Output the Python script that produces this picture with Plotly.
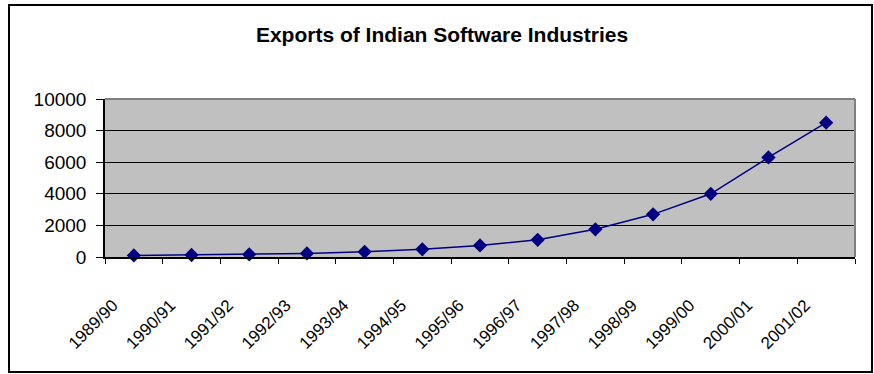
import plotly.graph_objects as go

# Financial years and software export values
years = ["1989/90", "1990/91", "1991/92", "1992/93", "1993/94", "1994/95", "1995/96",
         "1996/97", "1997/98", "1998/99", "1999/00", "2000/01", "2001/02"]
exports = [100, 128, 164, 225, 330, 485, 734, 1085, 1750, 2700, 4000, 6300, 8500]
y_ticks = [0, 2000, 4000, 6000, 8000, 10000]
y_labels = ["0", "2000", "4000", "6000", "8000", "10000"]

W, H = 874, 374
L, R, T, B = 105, 19, 99, 117
pw, ph = W - L - R, H - T - B

fig = go.Figure()
fig.add_trace(go.Scatter(
    x=years, y=exports, mode="lines+markers",
    line=dict(color="#000080", width=1.5),
    marker=dict(symbol="diamond", size=11, color="#000080"),
    showlegend=False, cliponaxis=False,
))

# outer chart frame and grey top/right plot border, in paper units
def px_x(p):
    return (p - L) / pw

def px_y(p):
    return (H - B - p) / ph

shapes = [
    dict(type="rect", xref="paper", yref="paper",
         x0=px_x(9), x1=px_x(872), y0=px_y(372), y1=px_y(5),
         line=dict(color="black", width=2), layer="below"),
    dict(type="line", xref="paper", yref="paper", x0=0, x1=1, y0=1, y1=1,
         line=dict(color="#808080", width=2)),
    dict(type="line", xref="paper", yref="paper", x0=1, x1=1, y0=0, y1=1,
         line=dict(color="#808080", width=2)),
]

fig.update_layout(
    width=W, height=H,
    margin=dict(l=L, r=R, t=T, b=B),
    paper_bgcolor="white",
    plot_bgcolor="#C0C0C0",
    font=dict(family="Liberation Sans, Arial", color="black"),
    title=dict(text="<b>Exports of Indian Software Industries</b>",
               x=442 / W, xanchor="center", y=1 - 35 / H, yanchor="middle",
               font=dict(size=21, color="black")),
    shapes=shapes,
    xaxis=dict(
        type="category", range=[-0.5, len(years) - 0.5],
        showgrid=False, zeroline=False,
        showline=True, linecolor="black", linewidth=1.5,
        ticks="outside", tickson="boundaries", ticklen=5, tickcolor="black",
        tickangle=-45, tickfont=dict(size=17),
        ticklabelstandoff=30, ticklabelshift=-21,
    ),
    yaxis=dict(
        range=[0, 10000], tickvals=y_ticks, ticktext=y_labels,
        showgrid=True, gridcolor="black", gridwidth=1,
        zeroline=False,
        showline=True, linecolor="black", linewidth=1.5,
        ticks="outside", ticklen=7, tickcolor="black",
        tickfont=dict(size=19), ticklabelstandoff=6,
    ),
)

fig.write_html("out.html")
